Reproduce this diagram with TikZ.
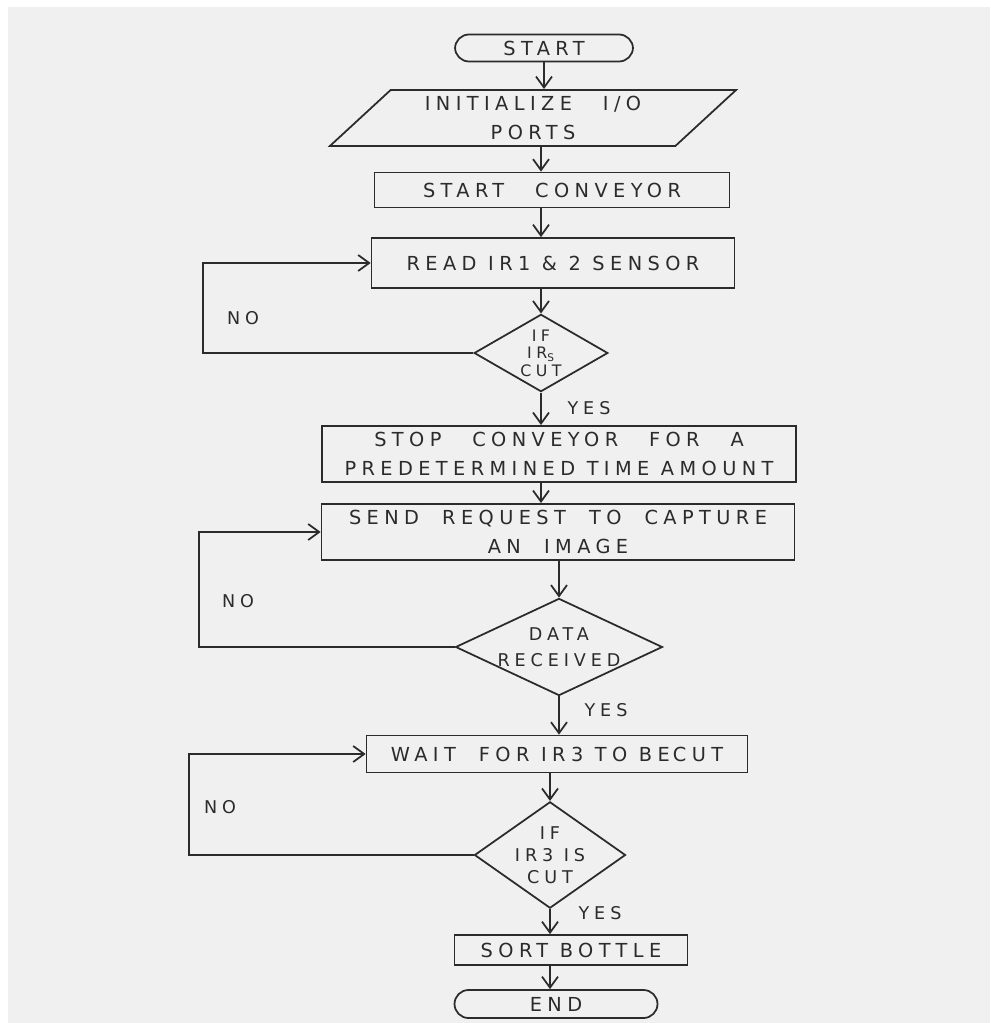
\documentclass[tikz,border=0pt]{standalone}
\usepackage{fontspec}
\setmainfont{DejaVu Sans}[LetterSpace=28]
\usepackage{xcolor}
\usepackage{tikz}
\usetikzlibrary{shapes,arrows,positioning,calc,arrows.meta}

\definecolor{paper}{HTML}{F0F0F0}
\definecolor{pencil}{HTML}{2B2B2B}

\tikzset{
    flowbox/.style={draw=pencil, line width=1pt, rectangle, align=center, text=pencil, font=\fontsize{11}{17}\selectfont},
    termbox/.style={flowbox, rounded corners=2.8mm},
    iobox/.style={flowbox, trapezium, trapezium left angle=49, trapezium right angle=131, trapezium stretches=true},
    decision/.style={flowbox, diamond, inner sep=0pt},
    flow/.style={draw=pencil, line width=1pt, -{Straight Barb[length=2.2mm,width=3.2mm]}},
    loopline/.style={draw=pencil, line width=1pt},
    note/.style={text=pencil, font=\fontsize{10}{12}\selectfont}
}

\begin{document}
\begin{tikzpicture}[x=0.02cm, y=-0.02cm]
    % Paper
    \fill[white] (0,0) rectangle (990,1023);
    \fill[paper] (8,7) rectangle (990,1023);
    \useasboundingbox (0,0) rectangle (990,1023);

    % Steps
    \node[termbox, minimum width=3.56cm, minimum height=0.54cm] (start) at (544,48) {START};
    \node[iobox, minimum width=8.14cm, minimum height=0.86cm] (init) at (533,118) {INITIALIZE \quad I/O\\PORTS};
    \node[flowbox, minimum width=7.1cm, minimum height=0.7cm] (conv) at (552,190) {START \quad CONVEYOR};
    \node[flowbox, minimum width=7.26cm, minimum height=1.0cm] (read) at (553,263) {READ IR1 \& 2 SENSOR};
    \node[decision, aspect=1.73, inner sep=1.2pt, font=\fontsize{9}{10}\selectfont] (irs) at (541,353) {IF\\IR\textsubscript{S}\\CUT};
    \node[flowbox, minimum width=9.48cm, minimum height=0.96cm] (stop) at (559,454) {STOP \quad CONVEYOR \quad FOR \quad A\\PREDETERMINED TIME AMOUNT};
    \node[flowbox, minimum width=9.46cm, minimum height=1.0cm] (send) at (558,532) {SEND \ REQUEST \ TO \ CAPTURE\\AN \ IMAGE};
    \node[decision, aspect=2.13, font=\fontsize{10}{15}\selectfont] (data) at (559,647) {DATA\\RECEIVED};
    \node[flowbox, minimum width=7.62cm, minimum height=0.74cm] (wait) at (557,754) {WAIT \ FOR IR3 TO BE\,CUT};
    \node[decision, aspect=1.42, font=\fontsize{10}{12.5}\selectfont] (ir3) at (550,855) {IF\\IR3 IS\\CUT};
    \node[flowbox, minimum width=4.66cm, minimum height=0.6cm] (sort) at (571,950) {SORT BOTTLE};
    \node[termbox, minimum width=4.06cm, minimum height=0.56cm] (end) at (556,1004) {END};

    % Loop corners
    \coordinate (backA) at (203,0);
    \coordinate (backB) at (199,0);
    \coordinate (backC) at (189,0);

    % Main line
    \draw[flow] (start.south) -- (start.south |- init.north);
    \draw[flow] (init.south -| irs.north) -- (conv.north -| irs.north);
    \draw[flow] (conv.south -| irs.north) -- (read.north -| irs.north);
    \draw[flow] (read.south -| irs.north) -- (irs.north);
    \draw[flow] (irs.south) -- (irs.south |- stop.north);
    \draw[flow] (stop.south -| irs.south) -- (send.north -| irs.south);
    \draw[flow] (send.south -| data.north) -- (data.north);
    \draw[flow] (data.south) -- (data.south |- wait.north);
    \draw[flow] (wait.south -| ir3.north) -- (ir3.north);
    \draw[flow] (ir3.south) -- (ir3.south |- sort.north);
    \draw[flow] (sort.south -| ir3.south) -- (end.north -| ir3.south);

    % Loops back
    \draw[flow] (irs.west) -- (irs.west -| backA) |- (read.west);
    \draw[flow] (data.west) -- (data.west -| backB) |- (send.west);
    \draw[flow] (ir3.west) -- (ir3.west -| backC) |- (wait.west);

    % Labels
    \node[note] (noA) at (243,318) {NO};
    \node[note] (noB) at (238,601) {NO};
    \node[note] (noC) at (220,807) {NO};
    \node[note] (yesA) at (589,408) {YES};
    \node[note] (yesB) at (606,710) {YES};
    \node[note] (yesC) at (600,913) {YES};
\end{tikzpicture}
\end{document}
